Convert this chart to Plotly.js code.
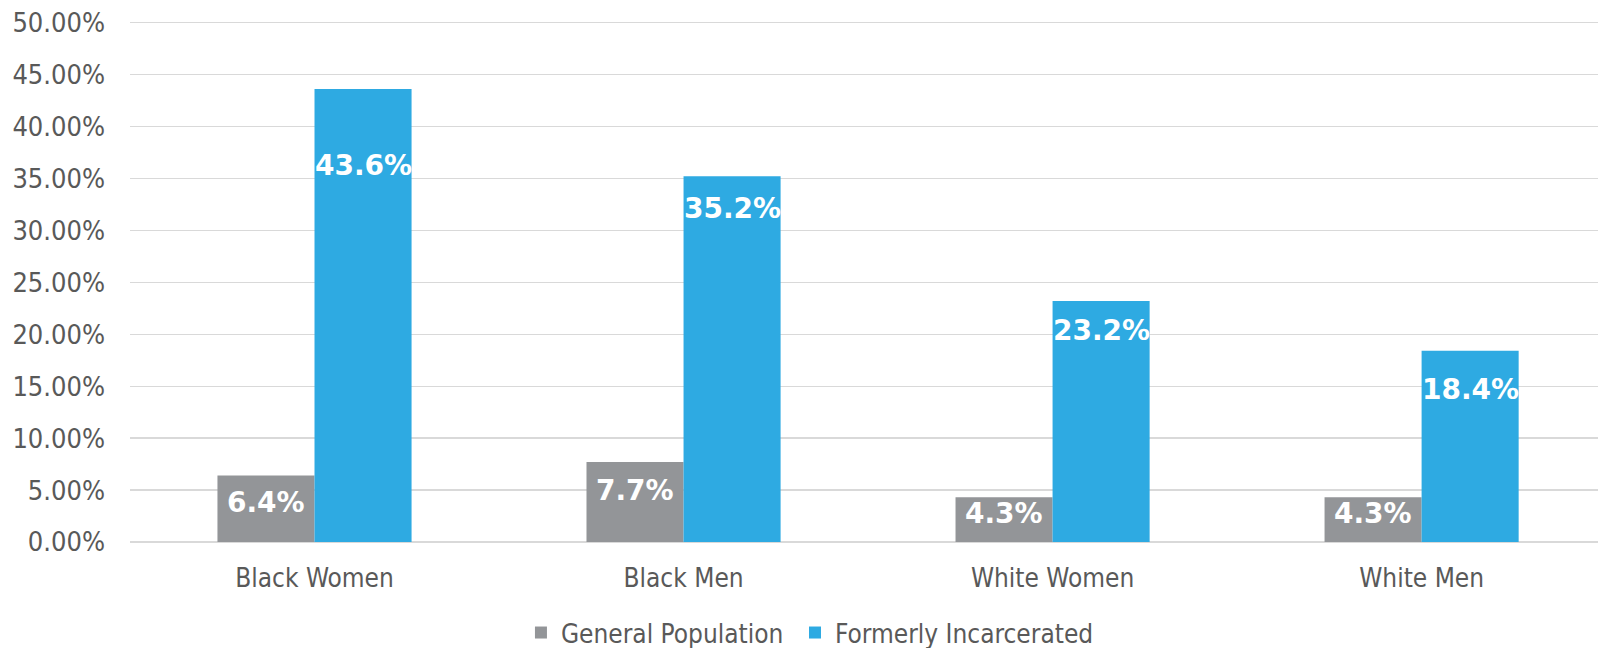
<!DOCTYPE html>
<html>
<head>
<meta charset="utf-8">
<script src="https://cdn.plot.ly/plotly-3.0.1.min.js"></script>
<style>
  html, body { margin: 0; padding: 0; background: #ffffff; }
  #chart { width: 1598px; height: 648px; }
</style>
</head>
<body>
<div id="chart"></div>
<script>
// ---- data ----
const categories = ['Black Women', 'Black Men', 'White Women', 'White Men'];
const seriesNames = ['General Population', 'Formerly Incarcerated'];
const generalPopulation = [0.064, 0.077, 0.043, 0.043];
const formerlyIncarcerated = [0.436, 0.352, 0.232, 0.184];
const yTickValues = [0, 0.05, 0.10, 0.15, 0.20, 0.25, 0.30, 0.35, 0.40, 0.45, 0.50];

// ---- style ----
const colors = ['#939598', '#2eaae2'];
const fam = '"DejaVu Sans Condensed", "DejaVu Sans", sans-serif';
const yFont = { family: fam, size: 27, color: '#595959' };
const xFont = { family: fam, size: 26, color: '#595959' };
const labelFont = { family: '"DejaVu Sans", sans-serif', size: 28, color: '#ffffff', weight: 'bold' };
const W = 1598, H = 648;
const margin = { l: 130, r: 0, t: 20, b: 106 };
const xRange = [-0.5, 3.478];
const bargap = 0.474;
// label centre distance below bar top (px), as placed in the original
const labelDrop = [[27, 28, 16, 16], [76, 32, 29, 39]];
const legendIds = ['legend', 'legend2'];
const legendX = [0.326, 0.4975];

const seriesValues = [generalPopulation, formerlyIncarcerated];

const traces = seriesValues.map((vals, i) => ({
  type: 'bar',
  name: seriesNames[i],
  legend: legendIds[i],
  x: categories,
  y: vals,
  marker: { color: colors[i], line: { width: 0 } },
  hoverinfo: 'x+y'
}));

const plotW = W - margin.l - margin.r;
const pxPerUnit = plotW / (xRange[1] - xRange[0]);
const barPx = (1 - bargap) / seriesValues.length * pxPerUnit;

const annotations = [];
seriesValues.forEach((vals, i) => {
  vals.forEach((v, j) => {
    annotations.push({
      x: categories[j],
      y: v,
      xref: 'x', yref: 'y',
      text: (v * 100).toFixed(1) + '%',
      showarrow: false,
      xanchor: 'center', yanchor: 'middle',
      xshift: (i - (seriesValues.length - 1) / 2) * barPx,
      yshift: -labelDrop[i][j],
      font: labelFont
    });
  });
});

function legendCfg(x) {
  return {
    orientation: 'h',
    xref: 'container', yref: 'container',
    x: x, xanchor: 'left',
    y: 0.06, yanchor: 'top',
    font: { family: fam, size: 26, color: '#595959' },
    itemwidth: 30,
    bgcolor: 'rgba(0,0,0,0)'
  };
}

const layout = {
  width: W, height: H,
  margin: margin,
  paper_bgcolor: '#ffffff',
  plot_bgcolor: '#ffffff',
  barmode: 'group',
  bargap: bargap,
  bargroupgap: 0,
  showlegend: true,
  legend: legendCfg(legendX[0]),
  legend2: legendCfg(legendX[1]),
  xaxis: {
    type: 'category',
    range: xRange,
    showgrid: false,
    showline: false,
    zeroline: false,
    ticks: '',
    tickfont: xFont,
    ticklabelstandoff: 18,
    fixedrange: true
  },
  yaxis: {
    range: [0, 0.5025],
    tickvals: yTickValues,
    tickformat: '.2%',
    showgrid: true,
    gridcolor: '#d9d9d9',
    gridwidth: 1.3,
    zeroline: true,
    zerolinecolor: '#d9d9d9',
    zerolinewidth: 1.3,
    showline: false,
    ticks: '',
    tickfont: yFont,
    ticklabelstandoff: 24,
    fixedrange: true
  },
  annotations: annotations
};

Plotly.newPlot('chart', traces, layout, { displayModeBar: false, staticPlot: true });
</script>
</body>
</html>
